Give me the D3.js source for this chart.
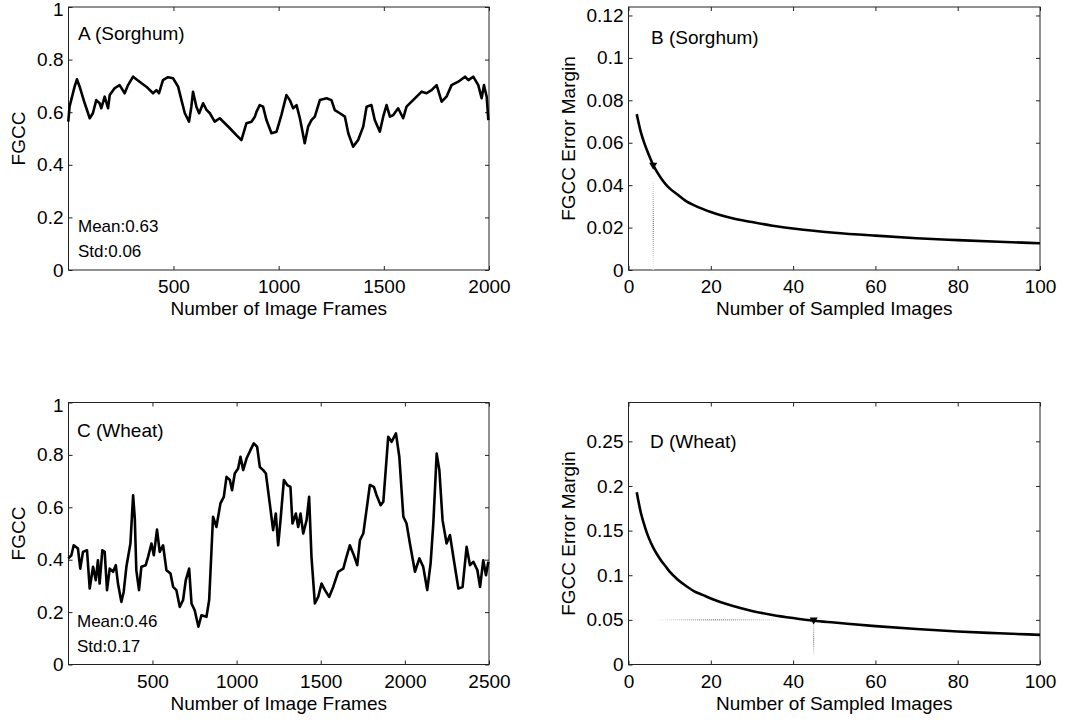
<!DOCTYPE html>
<html>
<head>
<meta charset="utf-8">
<script src="https://cdn.jsdelivr.net/npm/d3@7"></script>
<style>
  body { margin: 0; background: #fff; }
  text { font-family: "Liberation Sans", Arial, Helvetica, sans-serif; fill: #000; }
</style>
</head>
<body>
<script>

// ---- data ----

// panel A: sorghum FGCC over image frames
var sorghumFrames = [0, 6, 30, 41, 54, 78, 102, 117, 133, 149, 157, 173, 189, 197, 220, 244, 268, 284, 308, 339,
    371, 403, 419, 431, 450, 474, 498, 522, 538, 554, 574, 585, 593, 609, 622, 641, 657, 673, 696, 720,
    744, 768, 799, 823, 847, 871, 887, 895, 910, 926, 942, 966, 990, 1013, 1037, 1053, 1069, 1085, 1101, 1124,
    1140, 1156, 1172, 1196, 1228, 1251, 1267, 1291, 1315, 1331, 1354, 1378, 1402, 1418, 1441, 1457, 1481, 1497, 1513, 1529,
    1545, 1568, 1592, 1608, 1632, 1656, 1680, 1703, 1727, 1751, 1775, 1798, 1822, 1854, 1886, 1902, 1925, 1949, 1965, 1976,
    1989, 1997];
var sorghumFgcc = [0.564, 0.621, 0.697, 0.725, 0.697, 0.634, 0.577, 0.596, 0.646, 0.634, 0.615, 0.659, 0.615, 0.665, 0.691, 0.703, 0.672, 0.703, 0.735, 0.716,
    0.697, 0.672, 0.684, 0.672, 0.722, 0.733, 0.729, 0.697, 0.646, 0.596, 0.564, 0.621, 0.678, 0.621, 0.596, 0.634, 0.609, 0.596, 0.564, 0.577,
    0.558, 0.539, 0.513, 0.494, 0.558, 0.564, 0.583, 0.602, 0.627, 0.621, 0.570, 0.520, 0.526, 0.589, 0.665, 0.646, 0.615, 0.627, 0.577, 0.482,
    0.545, 0.570, 0.583, 0.646, 0.653, 0.646, 0.608, 0.596, 0.583, 0.520, 0.469, 0.494, 0.545, 0.621, 0.627, 0.570, 0.526, 0.583, 0.627, 0.583,
    0.589, 0.615, 0.577, 0.621, 0.640, 0.659, 0.678, 0.672, 0.684, 0.703, 0.640, 0.659, 0.703, 0.716, 0.735, 0.722, 0.735, 0.703, 0.653, 0.703,
    0.659, 0.570];

// panel C: wheat FGCC over image frames
var wheatFrames = [0, 18, 32, 57, 71, 87, 111, 127, 147, 163, 176, 186, 202, 216, 230, 246, 266, 282, 295, 315,
    329, 345, 369, 385, 395, 404, 420, 434, 460, 474, 494, 508, 527, 543, 563, 583, 607, 623, 642, 662,
    682, 698, 718, 732, 751, 773, 791, 821, 837, 860, 880, 904, 924, 940, 960, 973, 989, 1009, 1023, 1039,
    1059, 1082, 1102, 1122, 1138, 1158, 1174, 1197, 1217, 1233, 1247, 1261, 1281, 1301, 1320, 1332, 1352, 1366, 1380, 1396,
    1416, 1431, 1445, 1465, 1485, 1505, 1525, 1550, 1574, 1604, 1634, 1653, 1673, 1697, 1717, 1733, 1753, 1772, 1792, 1816,
    1832, 1856, 1872, 1901, 1921, 1947, 1967, 1991, 2010, 2030, 2060, 2086, 2109, 2133, 2153, 2169, 2189, 2205, 2224, 2248,
    2268, 2288, 2318, 2343, 2367, 2387, 2407, 2431, 2447, 2466, 2482, 2496];
var wheatFgcc = [0.405, 0.417, 0.455, 0.443, 0.366, 0.430, 0.436, 0.290, 0.373, 0.322, 0.398, 0.309, 0.436, 0.430, 0.284, 0.366, 0.354, 0.379, 0.309, 0.239,
    0.277, 0.373, 0.462, 0.646, 0.557, 0.360, 0.284, 0.373, 0.379, 0.411, 0.462, 0.417, 0.515, 0.430, 0.455, 0.360, 0.347, 0.296, 0.284, 0.220,
    0.246, 0.322, 0.366, 0.233, 0.207, 0.144, 0.188, 0.182, 0.246, 0.564, 0.525, 0.615, 0.640, 0.716, 0.704, 0.665, 0.729, 0.748, 0.793, 0.742,
    0.786, 0.818, 0.844, 0.831, 0.754, 0.742, 0.729, 0.615, 0.513, 0.576, 0.455, 0.551, 0.704, 0.685, 0.678, 0.538, 0.576, 0.525, 0.576, 0.500,
    0.551, 0.640, 0.411, 0.233, 0.258, 0.309, 0.284, 0.258, 0.296, 0.354, 0.366, 0.411, 0.455, 0.417, 0.379, 0.475, 0.500, 0.589, 0.685, 0.678,
    0.646, 0.608, 0.621, 0.869, 0.850, 0.882, 0.793, 0.564, 0.538, 0.462, 0.354, 0.405, 0.373, 0.284, 0.386, 0.538, 0.805, 0.742, 0.551, 0.462,
    0.494, 0.411, 0.290, 0.296, 0.449, 0.379, 0.392, 0.360, 0.296, 0.398, 0.341, 0.392];

// panels B and D: error margin vs number of sampled images
var sampleSizes = [2, 3, 4, 5, 6, 7, 8, 9, 10, 12, 14, 16, 18, 20, 25, 30, 35, 40, 45, 50, 60, 70, 80, 90, 100];
var sorghumMargin = [0.0735, 0.065, 0.059, 0.054, 0.0495, 0.046, 0.043, 0.0405, 0.0385, 0.0355, 0.0325, 0.0305, 0.0288, 0.0273,
    0.0245, 0.0226, 0.0209, 0.0196, 0.0185, 0.0176, 0.0162, 0.015, 0.0141, 0.0133, 0.0126];
var wheatMargin = [0.193, 0.17, 0.154, 0.141, 0.131, 0.123, 0.116, 0.11, 0.104, 0.095, 0.088, 0.082, 0.078, 0.074,
    0.066, 0.06, 0.0555, 0.052, 0.049, 0.047, 0.043, 0.0397, 0.037, 0.035, 0.0332];

// chosen sample size markers [n, margin]
var sorghumPick = [6, 0.049];
var wheatPick = [45, 0.049];

var fgccTicks = [0, 0.2, 0.4, 0.6, 0.8, 1];
var sorghumMarginTicks = [0, 0.02, 0.04, 0.06, 0.08, 0.1, 0.12];
var wheatMarginTicks = [0, 0.05, 0.1, 0.15, 0.2, 0.25];
var sampleTicks = [0, 20, 40, 60, 80, 100];

// ---- layout ----

var svg = d3.select("body").append("svg")
    .attr("width", 1075)
    .attr("height", 721);

var defs = svg.append("defs");

function fadeGradient(id, x1, y1, x2, y2) {
    var g = defs.append("linearGradient")
        .attr("id", id)
        .attr("x1", x1).attr("y1", y1)
        .attr("x2", x2).attr("y2", y2);
    g.append("stop").attr("offset", "0%").attr("stop-color", "#fff");
    g.append("stop").attr("offset", "50%").attr("stop-color", "#444");
    g.append("stop").attr("offset", "100%").attr("stop-color", "#ddd");
}
fadeGradient("fadeH", "0", "0", "1", "0");
fadeGradient("fadeV", "0", "1", "0", "0");

function makePanel(box, xDomain, yDomain, xTicks, yTicks, xLabel, yLabel, yLabelX) {
    var x = d3.scaleLinear().domain(xDomain).range([box.left, box.right]);
    var y = d3.scaleLinear().domain(yDomain).range([box.bottom, box.top]);
    var g = svg.append("g");

    var fmt = d => String(+d.toFixed(3));

    g.append("g")
        .attr("transform", "translate(0," + box.bottom + ")")
        .call(d3.axisBottom(x).tickValues(xTicks).tickFormat(fmt).tickSizeInner(-4).tickSizeOuter(0).tickPadding(10));
    var left = g.append("g")
        .attr("transform", "translate(" + box.left + ",0)")
        .call(d3.axisLeft(y).tickValues(yTicks).tickFormat(fmt).tickSizeInner(-4).tickSizeOuter(0).tickPadding(5));
    g.append("g")
        .attr("transform", "translate(0," + box.top + ")")
        .call(d3.axisTop(x).tickValues(xTicks).tickFormat("").tickSizeInner(-4).tickSizeOuter(0));
    g.append("g")
        .attr("transform", "translate(" + box.right + ",0)")
        .call(d3.axisRight(y).tickValues(yTicks).tickFormat("").tickSizeInner(-4).tickSizeOuter(0));

    g.selectAll(".domain").remove();
    g.selectAll(".tick line").attr("stroke", "#222");
    g.selectAll(".tick text")
        .attr("font-size", "19px")
        .attr("font-family", "'Liberation Sans', Arial, sans-serif")
        .attr("fill", "#000");
    // the label sitting on the top edge is nudged down a little, as in the original
    left.selectAll(".tick text")
        .filter(d => y(d) - box.top < 3)
        .attr("dy", "0.45em");

    g.append("rect")
        .attr("x", box.left)
        .attr("y", box.top)
        .attr("width", box.right - box.left)
        .attr("height", box.bottom - box.top)
        .attr("fill", "none")
        .attr("stroke", "#222")
        .attr("stroke-width", 1);

    g.append("text")
        .attr("x", (box.left + box.right) / 2)
        .attr("y", box.bottom + 45)
        .attr("text-anchor", "middle")
        .attr("font-size", "19px")
        .text(xLabel);

    g.append("text")
        .attr("transform", "translate(" + yLabelX + "," + (box.top + box.bottom) / 2 + ") rotate(-90)")
        .attr("text-anchor", "middle")
        .attr("font-size", "19px")
        .text(yLabel);

    return {g: g, x: x, y: y};
}

function drawSeries(p, xs, ys, curve) {
    var pts = xs.map((d, i) => [d, ys[i]]);
    p.g.append("path")
        .datum(pts)
        .attr("fill", "none")
        .attr("stroke", "#000")
        .attr("stroke-width", 2.6)
        .attr("stroke-linejoin", "round")
        .attr("d", d3.line().x(d => p.x(d[0])).y(d => p.y(d[1])).curve(curve));
}

function note(p, x, y, size, txt) {
    p.g.append("text")
        .attr("x", x)
        .attr("y", y)
        .attr("font-size", size)
        .text(txt);
}

function pickMarker(p, pick) {
    p.g.append("path")
        .attr("d", d3.symbol().type(d3.symbolTriangle).size(28))
        .attr("transform", "translate(" + p.x(pick[0]) + "," + (p.y(pick[1]) - 1) + ") rotate(180)")
        .attr("fill", "#000");
}

var boxA = {left: 68.5, right: 489, top: 7, bottom: 270};
var boxB = {left: 628.5, right: 1040, top: 7, bottom: 270};
var boxC = {left: 68.5, right: 489, top: 402.5, bottom: 664.5};
var boxD = {left: 628.5, right: 1040, top: 402.5, bottom: 664.5};

// A
var pA = makePanel(boxA, [1, 2000], [0, 1], [500, 1000, 1500, 2000], fgccTicks,
    "Number of Image Frames", "FGCC", 25);
drawSeries(pA, sorghumFrames, sorghumFgcc, d3.curveLinear);
note(pA, 78, 40, "19px", "A (Sorghum)");
note(pA, 78, 232, "17px", "Mean:0.63");
note(pA, 78, 257, "17px", "Std:0.06");

// B
var pB = makePanel(boxB, [0, 100], [0, 0.124], sampleTicks, sorghumMarginTicks,
    "Number of Sampled Images", "FGCC Error Margin", 575);
pB.g.append("line")
    .attr("x1", pB.x(sorghumPick[0])).attr("x2", pB.x(sorghumPick[0]) + 0.01)
    .attr("y1", pB.y(0)).attr("y2", pB.y(0.042))
    .attr("stroke", "url(#fadeV)")
    .attr("stroke-width", 1)
    .attr("stroke-dasharray", "1,1");
drawSeries(pB, sampleSizes, sorghumMargin, d3.curveMonotoneX);
pickMarker(pB, sorghumPick);
note(pB, 651, 44, "19px", "B (Sorghum)");

// C
var pC = makePanel(boxC, [1, 2500], [0, 1], [500, 1000, 1500, 2000, 2500], fgccTicks,
    "Number of Image Frames", "FGCC", 25);
drawSeries(pC, wheatFrames, wheatFgcc, d3.curveLinear);
note(pC, 77, 437, "19px", "C (Wheat)");
note(pC, 77, 627, "17px", "Mean:0.46");
note(pC, 77, 652, "17px", "Std:0.17");

// D
var pD = makePanel(boxD, [0, 100], [0, 0.2935], sampleTicks, wheatMarginTicks,
    "Number of Sampled Images", "FGCC Error Margin", 575);
pD.g.append("line")
    .attr("x1", pD.x(6)).attr("x2", pD.x(36))
    .attr("y1", pD.y(0.05)).attr("y2", pD.y(0.05) + 0.01)
    .attr("stroke", "url(#fadeH)")
    .attr("stroke-width", 1)
    .attr("stroke-dasharray", "1,1");
pD.g.append("line")
    .attr("x1", pD.x(wheatPick[0])).attr("x2", pD.x(wheatPick[0]) + 0.01)
    .attr("y1", pD.y(0.008)).attr("y2", pD.y(0.048))
    .attr("stroke", "url(#fadeV)")
    .attr("stroke-width", 1)
    .attr("stroke-dasharray", "1,1");
drawSeries(pD, sampleSizes, wheatMargin, d3.curveMonotoneX);
pickMarker(pD, wheatPick);
note(pD, 650, 448, "19px", "D (Wheat)");

</script>
</body>
</html>
